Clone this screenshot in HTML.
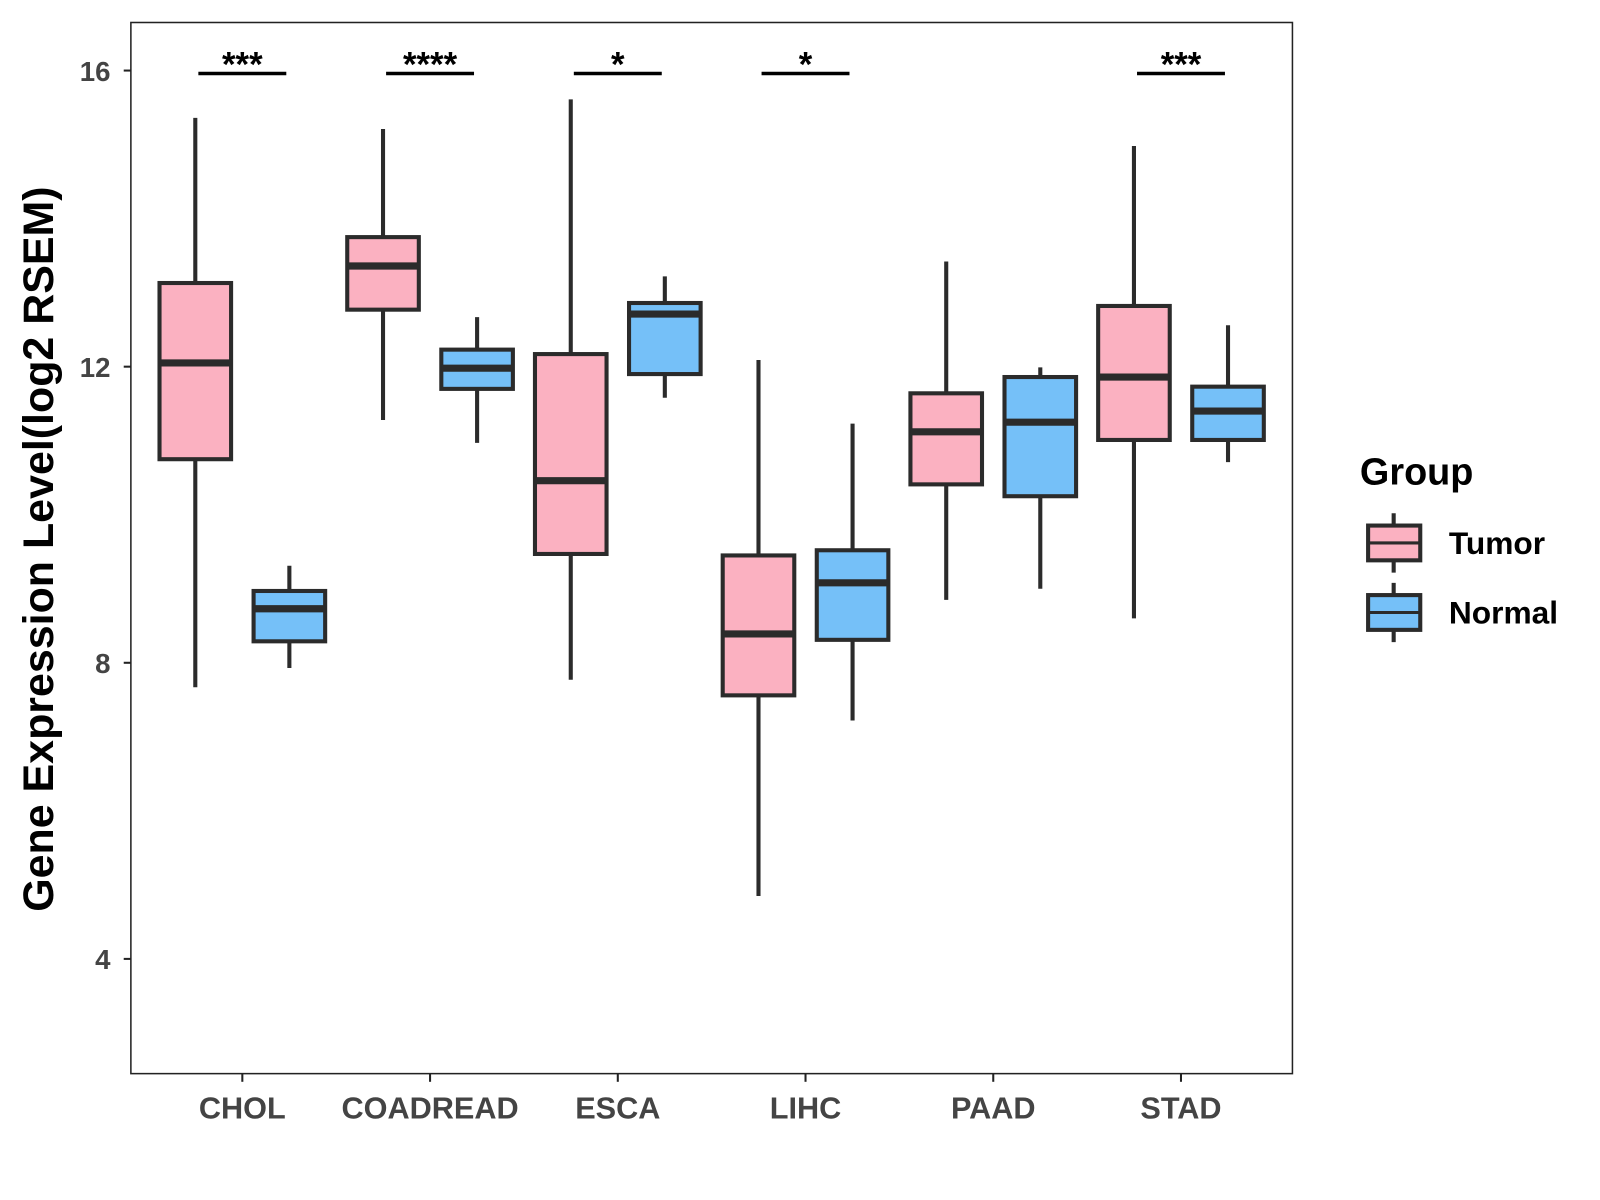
<!DOCTYPE html>
<html><head><meta charset="utf-8">
<style>html,body{margin:0;padding:0;background:#fff}svg{display:block}</style></head>
<body>
<svg id="chart" width="1600" height="1200" xmlns="http://www.w3.org/2000/svg" font-family="Liberation Sans, Arial, sans-serif">
<rect x="0" y="0" width="1600" height="1200" fill="#fff"/>
<g id="root" transform="scale(1.0225)">
<g id="marks"></g>
<rect x="128" y="22" width="1136" height="1028" fill="none" stroke="#222" stroke-width="1.5"/>
<text transform="translate(52,537) rotate(-90)" text-anchor="middle" font-size="42" font-weight="bold" fill="#000">Gene Expression Level(log2 RSEM)</text>
<g>
<text x="1330" y="474" font-size="37" font-weight="bold">Group</text>
<g>
<line x1="1363" y1="502" x2="1363" y2="560" stroke="#2b2b2b" stroke-width="4"/>
<rect x="1338" y="514" width="51" height="34" fill="#fbb1c1" stroke="#2b2b2b" stroke-width="4"/>
<line x1="1338" y1="531" x2="1389" y2="531" stroke="#2b2b2b" stroke-width="3"/>
<text x="1417" y="542" font-size="31" font-weight="bold">Tumor</text></g>
<g>
<line x1="1363" y1="570" x2="1363" y2="628" stroke="#2b2b2b" stroke-width="4"/>
<rect x="1338" y="582" width="51" height="34" fill="#75c0f8" stroke="#2b2b2b" stroke-width="4"/>
<line x1="1338" y1="599" x2="1389" y2="599" stroke="#2b2b2b" stroke-width="3"/>
<text x="1417" y="610" font-size="31" font-weight="bold">Normal</text></g>
</g>
</g>
</svg>
<script>
const categories = ["CHOL","COADREAD","ESCA","LIHC","PAAD","STAD"];
// [low, q1, median, q3, high]
const tumorStats = [
  [7.67,10.75,12.05,13.13,15.36],
  [11.28,12.77,13.36,13.75,15.21],
  [7.77,9.47,10.46,12.17,15.61],
  [4.85,7.56,8.39,9.45,12.09],
  [8.85,10.41,11.12,11.64,13.42],
  [8.60,11.01,11.86,12.82,14.98]
];
const normalStats = [
  [7.93,8.29,8.73,8.97,9.31],
  [10.97,11.70,11.98,12.23,12.67],
  [11.58,11.90,12.71,12.86,13.22],
  [7.22,8.31,9.08,9.52,11.23],
  [9.00,10.25,11.25,11.86,11.99],
  [10.71,11.01,11.40,11.73,12.56]
];
const significance = ["***","****","*","*","","***"];
const yTicks = [4,8,12,16];
const sigLevel = 15.96;

const NS='http://www.w3.org/2000/svg';
const g=document.getElementById('marks');
const root=document.getElementById('root');
function y(v){return 69+(16-v)*72.4;}
function x(i){return 237+i*183.6;}
function mk(tag,attrs,parent){const e=document.createElementNS(NS,tag);for(const k in attrs)e.setAttribute(k,attrs[k]);(parent||g).appendChild(e);return e;}

yTicks.forEach(t=>{
  const tk=mk('line',{x1:121,x2:128,y1:y(t),y2:y(t),stroke:'#222','stroke-width':2},root);
  
  
  const tl=mk('text',{x:108,y:y(t)+10,'text-anchor':'end','font-size':27,'font-weight':'bold',fill:'#444'},root);
  tl.textContent=t;
  
  
});
categories.forEach((c,i)=>{
  const tk=mk('line',{x1:x(i),x2:x(i),y1:1050,y2:1058,stroke:'#222','stroke-width':2},root);
  
  
  const tl=mk('text',{x:x(i),y:1094,'text-anchor':'middle','font-size':30,'font-weight':'bold',fill:'#444'},root);
  tl.textContent=c;
  
  
});
function box(cx,s,fill,name){
  const grp=mk('g',{});
  
  
  mk('line',{x1:cx,x2:cx,y1:y(s[4]),y2:y(s[0]),stroke:'#2b2b2b','stroke-width':4},grp);
  mk('rect',{x:cx-35,y:y(s[3]),width:70,height:y(s[1])-y(s[3]),fill:fill,stroke:'#2b2b2b','stroke-width':4},grp);
  mk('line',{x1:cx-35,x2:cx+35,y1:y(s[2]),y2:y(s[2]),stroke:'#2b2b2b','stroke-width':7},grp);
}
categories.forEach((c,i)=>{
  box(x(i)-46,tumorStats[i],'#fbb1c1','box-tumor-'+c.toLowerCase());
  box(x(i)+46,normalStats[i],'#75c0f8','box-normal-'+c.toLowerCase());
  if(significance[i]){
    const b=mk('line',{x1:x(i)-43,x2:x(i)+43,y1:y(sigLevel),y2:y(sigLevel),stroke:'#000','stroke-width':3.5});
    
    
    const t=mk('text',{x:x(i),y:y(sigLevel)+3,'text-anchor':'middle','font-size':34,'font-weight':'bold',fill:'#000'});
    t.textContent=significance[i];
    
    
  }
});
</script>
</body></html>
